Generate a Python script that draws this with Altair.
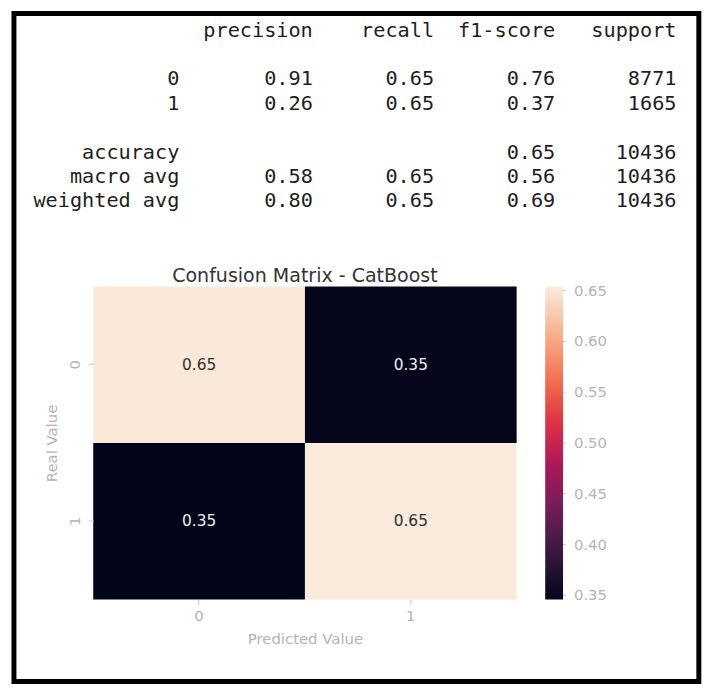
import altair as alt
import pandas as pd
import numpy as np

# ---------------- classification report data ----------------
report_rows = ["0", "1", "accuracy", "macro avg", "weighted avg"]
report_cols = ["precision", "recall", "f1-score", "support"]
precision = [0.91, 0.26, None, 0.58, 0.80]
recall = [0.65, 0.65, None, 0.65, 0.65]
f1_score = [0.76, 0.37, 0.65, 0.56, 0.69]
support = [8771, 1665, 10436, 10436, 10436]
row_order = ["header", "gap1", "0", "1", "gap2", "accuracy", "macro avg", "weighted avg"]

# ---------------- confusion matrix data ----------------
classes = ["0", "1"]
cm_row0 = [0.652, 0.348]
cm_row1 = [0.346, 0.654]
cbar_ticks = [0.35, 0.40, 0.45, 0.50, 0.55, 0.60, 0.65]
rocket = ["#03051a", "#35193e", "#701f57", "#ad1759", "#e13342",
          "#f37651", "#f6b48f", "#faebdd"]
title_text = "Confusion Matrix - CatBoost"

# ---------- build tables ----------
cells = []
for c in report_cols:
    cells.append({"row": "header", "col": c, "text": c})
for i, r in enumerate(report_rows):
    vals = [precision[i], recall[i], f1_score[i], support[i]]
    for c, v in zip(report_cols, vals):
        if v is None:
            continue
        txt = str(v) if c == "support" else f"{v:.2f}"
        cells.append({"row": r, "col": c, "text": txt})
cells_df = pd.DataFrame(cells)
labels_df = pd.DataFrame({"row": report_rows, "col": ["label"] * len(report_rows),
                          "text": report_rows})

mono = "DejaVu Sans Mono"
# the report sits above the heatmap: its own scales, ranges relative to the heatmap origin
xcol = alt.X("col:N",
             scale=alt.Scale(domain=["label"] + report_cols, range=[99.2, 588.5], padding=0),
             axis=None)
yrow = alt.Y("row:N", scale=alt.Scale(domain=row_order, range=[-258, -86], padding=0),
             axis=None)

table_vals = alt.Chart(cells_df).mark_text(
    font=mono, fontSize=20.4, align="right", baseline="middle", color="#1e1e1e"
).encode(x=xcol, y=yrow, text="text:N")
table_labels = alt.Chart(labels_df).mark_text(
    font=mono, fontSize=20.4, align="right", baseline="middle", color="#1e1e1e", dx=-12.3
).encode(x=xcol, y=yrow, text="text:N")
table = alt.layer(table_vals, table_labels)

# ---------- heatmap ----------
cm_df = pd.DataFrame({
    "real": ["0", "0", "1", "1"],
    "pred": ["0", "1", "0", "1"],
    "value": cm_row0 + cm_row1,
})
vmin = min(cm_row0 + cm_row1)
vmax = max(cm_row0 + cm_row1)
stops = list(np.linspace(vmin, vmax, len(rocket)))

W, H = 427.2, 315.7
axis_gray = "#b4b4b4"
xenc = alt.X("pred:N", scale=alt.Scale(domain=classes, paddingInner=0, paddingOuter=0),
             axis=alt.Axis(title="Predicted Value", labelAngle=0, domain=False,
                           tickColor="#c8c8c8", tickSize=5, labelColor=axis_gray,
                           labelFontSize=15, labelPadding=4, titleColor=axis_gray,
                           titleFontSize=15, titleFontWeight="normal", titlePadding=8))
yenc = alt.Y("real:N", scale=alt.Scale(domain=classes, paddingInner=0, paddingOuter=0),
             axis=alt.Axis(title="Real Value", labelAngle=270, domain=False,
                           tickColor="#c8c8c8", tickSize=5, labelColor=axis_gray,
                           labelFontSize=15, labelPadding=6, titleColor=axis_gray,
                           titleFontSize=15, titleFontWeight="normal", titlePadding=8))

rects = alt.Chart(cm_df).mark_rect().encode(
    x=xenc, y=yenc,
    color=alt.Color("value:Q",
                    scale=alt.Scale(domain=stops, range=rocket, interpolate="rgb"),
                    legend=alt.Legend(title=None, direction="vertical", orient="right",
                                      gradientLength=H, gradientThickness=18,
                                      gradientStrokeWidth=0, offset=27.5, padding=0,
                                      values=cbar_ticks, format=".2f",
                                      labelFontSize=15, labelColor=axis_gray,
                                      labelOffset=11)),
)
annot = alt.Chart(cm_df).mark_text(fontSize=15.5, baseline="middle").encode(
    x=xenc, y=yenc,
    text=alt.Text("value:Q", format=".2f"),
    color=alt.condition("datum.value < 0.5", alt.value("#eeeeee"), alt.value("#303030")),
)
heat = alt.layer(rects, annot)

# small tick marks beside the colour bar
cbar_x = W + 27.5 + 18
cbar_tick_marks = alt.Chart(pd.DataFrame({"v": cbar_ticks})).mark_rule(
    color="#c8c8c8", strokeWidth=1
).encode(
    y=alt.Y("v:Q", scale=alt.Scale(domain=[vmin, vmax], nice=False, zero=False), axis=None),
    x=alt.value(cbar_x), x2=alt.value(cbar_x + 4.5),
)

title_mark = alt.Chart(alt.Data(values=[{"t": title_text}])).mark_text(
    fontSize=19.2, color="#333333", align="center", baseline="alphabetic"
).encode(text="t:N", x=alt.value(W / 2), y=alt.value(-5))

border = alt.Chart(alt.Data(values=[{}])).mark_rect(
    fillOpacity=0, stroke="black", strokeWidth=5
).encode(x=alt.value(-80), x2=alt.value(611), y=alt.value(-275.5), y2=alt.value(398.5))

chart = alt.layer(heat, table, cbar_tick_marks, title_mark, border).resolve_scale(
    x="independent", y="independent"
).properties(
    width=W, height=H,
    padding={"left": 3, "top": 0, "right": 0, "bottom": 0},
).configure(font="DejaVu Sans").configure_view(strokeWidth=0)

chart.save("out.html", embed_options={"renderer": "svg", "actions": False})
